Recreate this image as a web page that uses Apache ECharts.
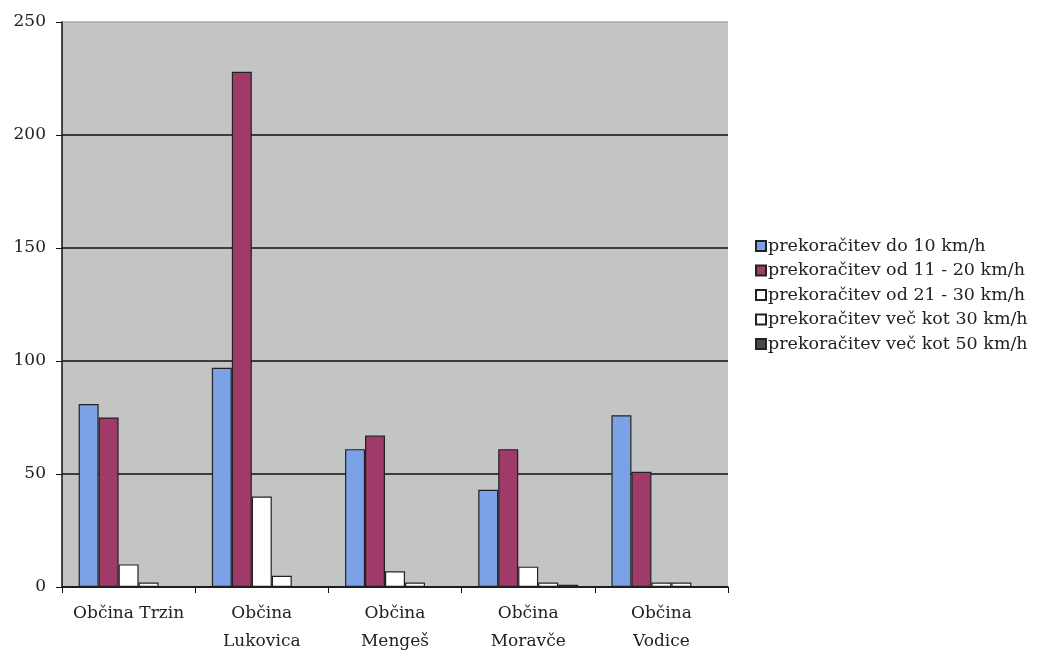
<!DOCTYPE html>
<html><head><meta charset="utf-8">
<script src="https://cdn.jsdelivr.net/npm/echarts@6/dist/echarts.min.js"></script>
<style>html,body{margin:0;padding:0;background:#fff;}#c{width:1050px;height:656px;}</style>
</head><body><div id="c"></div>
<script>
const categories = ['Občina Trzin', 'Občina\nLukovica', 'Občina\nMengeš', 'Občina\nMoravče', 'Občina\nVodice'];
const seriesNames = ['prekoračitev do 10 km/h', 'prekoračitev od 11 - 20 km/h', 'prekoračitev od 21 - 30 km/h', 'prekoračitev več kot 30 km/h', 'prekoračitev več kot 50 km/h'];
const do10 = [81, 97, 61, 43, 76];
const od11do20 = [75, 228, 67, 61, 51];
const od21do30 = [10, 40, 7, 9, 2];
const nad30 = [2, 5, 2, 2, 2];
const nad50 = [0, 0, 0, 1, 0];
const yTicks = [0, 50, 100, 150, 200, 250];
const colors = ['#7ba2e6', '#a03a68', '#ffffff', '#ffffff', '#4a4a4a'];
const values = [do10, od11do20, od21do30, nad30, nad50];
const font = 'DejaVu Serif';
const chart = echarts.init(document.getElementById('c'));
chart.setOption({
  animation: false,
  backgroundColor: '#ffffff',
  textStyle: { fontFamily: font },
  grid: { left: 62, right: 322, top: 22, bottom: 69, show: true, backgroundColor: '#c3c4c4', borderWidth: 0 },
  legend: {
    orient: 'vertical', left: 750, top: 232,
    itemWidth: 10, itemHeight: 10, itemGap: 6.5,
    icon: 'rect',
    textStyle: { fontFamily: font, fontSize: 17.5, color: '#222', padding: [0, 0, 0, -3] },
    data: seriesNames
  },
  xAxis: {
    type: 'category', data: categories,
    axisLine: { lineStyle: { color: '#111', width: 1.5 } },
    axisTick: { show: true, interval: 0, length: 6, lineStyle: { color: '#111' } },
    axisLabel: { interval: 0, fontFamily: font, fontSize: 17, color: '#222', lineHeight: 28, margin: 13 }
  },
  yAxis: {
    type: 'value', min: yTicks[0], max: yTicks[yTicks.length - 1], interval: 50,
    axisLine: { show: true, lineStyle: { color: '#111', width: 1.5 } },
    axisTick: { show: true, length: 6, lineStyle: { color: '#111' } },
    axisLabel: { fontFamily: font, fontSize: 17, color: '#222', margin: 16 },
    splitLine: { lineStyle: { color: ['#111', '#111', '#111', '#111', '#111', '#a8a9a9'], width: 1.5 } }
  },
  series: seriesNames.map((n, i) => ({
    name: n, type: 'bar', data: values[i],
    barGap: '0%', barCategoryGap: '25%',
    itemStyle: { color: colors[i], borderColor: '#222', borderWidth: 1.2 }
  }))
});
</script></body></html>
